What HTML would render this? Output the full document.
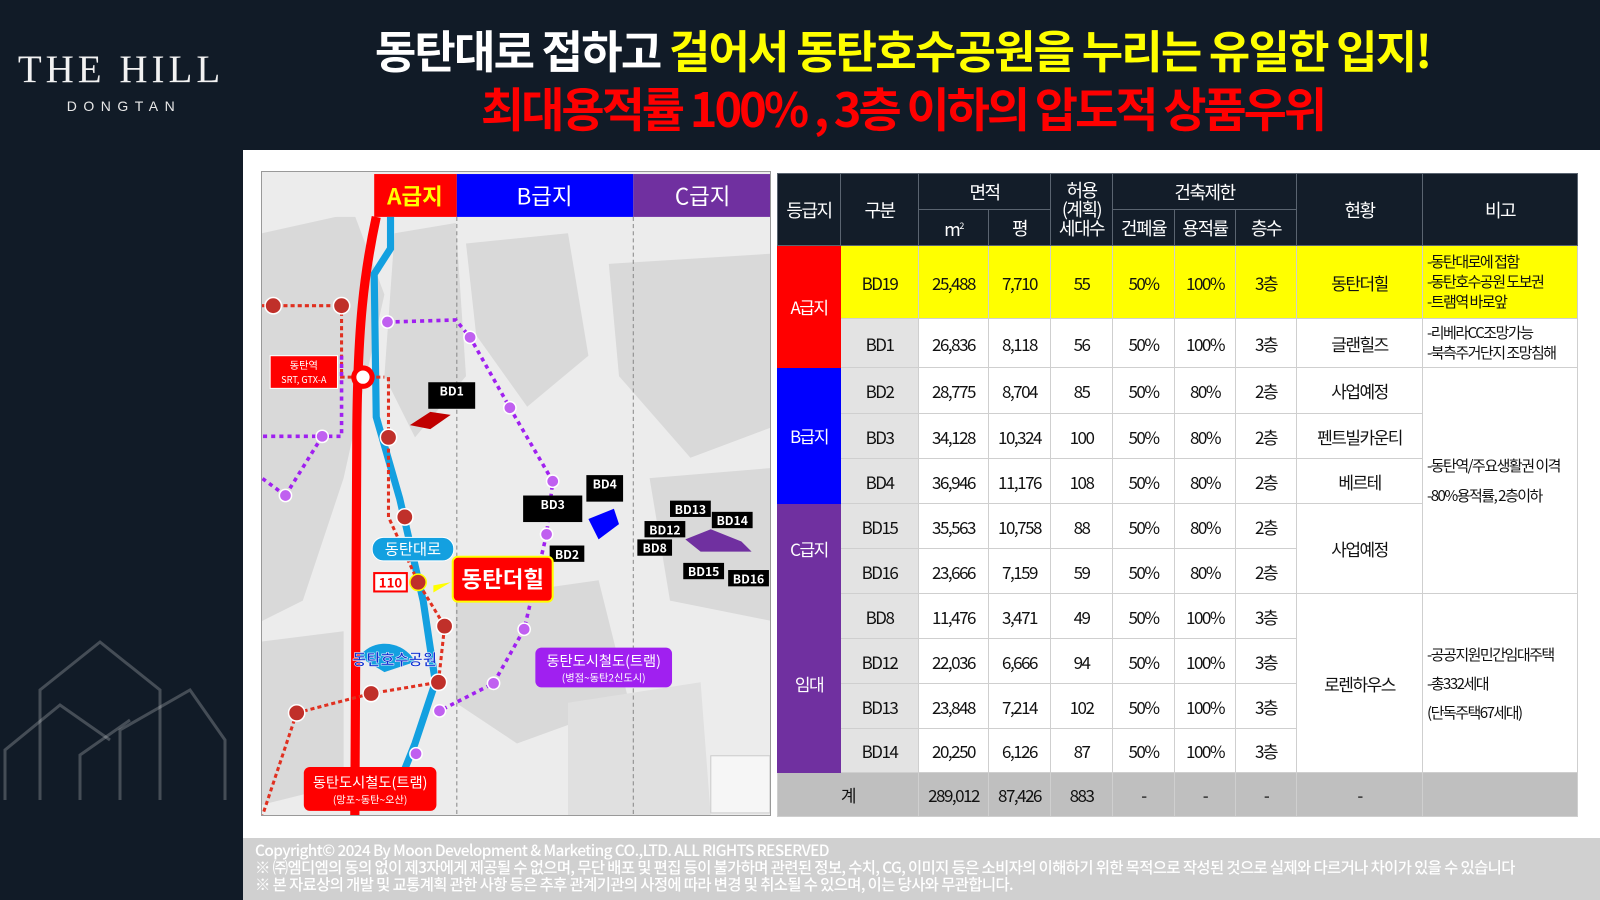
<!DOCTYPE html>
<html><head><meta charset="utf-8">
<style>
*{margin:0;padding:0;box-sizing:border-box}
body{width:1600px;height:900px;background:#111b27;position:relative;overflow:hidden;font-family:"Liberation Sans","Noto Sans CJK KR",sans-serif}
.abs{position:absolute}
#logo1{left:0;width:242px;top:47px;text-align:center;color:#f2f2f2;font-family:"Liberation Serif","Noto Serif CJK SC",serif;font-size:39px;letter-spacing:4px}
#logo2{left:0;width:242px;top:98px;text-align:center;color:#e8e8e8;font-size:14px;letter-spacing:6.5px;padding-left:6px}
.title{left:205px;width:1395px;text-align:center;font-family:"Noto Sans CJK KR",sans-serif;font-weight:700;white-space:nowrap}
#t1{top:16px;font-size:45px;letter-spacing:-1.8px;color:#fff}
#t1 span{color:#ffff00}
#t2{top:72px;font-size:47px;letter-spacing:-3px;color:#ff0000}
#panel{left:243px;top:150px;width:1357px;height:688px;background:#fff}
#footer{left:243px;top:838px;width:1357px;height:62px;background:#d0d0d0;color:#fff;font-family:"Noto Sans CJK KR",sans-serif;font-weight:500;font-size:15.4px;line-height:17px;padding:4px 0 0 12px;letter-spacing:-0.6px;white-space:nowrap;overflow:hidden}
#map{left:261px;top:171px;width:510px;height:645px;border:1px solid #999;background:#ececec;overflow:hidden}
table{position:absolute;left:777px;top:173px;width:800px;height:643px;border-collapse:collapse;table-layout:fixed;font-family:"Noto Sans CJK KR",sans-serif;font-size:17px;letter-spacing:-1.5px;color:#111}
td{border:1px solid #cfcfcf;text-align:center;vertical-align:middle;padding:0;overflow:hidden;white-space:nowrap}
th{background:#131d29;color:#fff;font-weight:400;border:1px solid #5a6470;font-size:18px;line-height:22px}
.y td{background:#ffff00}
.g{background:#e3e3e3}
.left{text-align:left;padding-left:4px;font-size:15px;line-height:20px}
.tot td{background:#bfbfbf}
</style></head><body>
<div class="abs" id="logo1">THE HILL</div>
<div class="abs" id="logo2">DONGTAN</div>
<svg class="abs" style="left:0;top:630px" width="240" height="180">
<g fill="none" stroke="rgba(255,255,255,0.22)" stroke-width="3">
<polyline points="40,170 40,60 100,12 160,60 160,170"/>
<polyline points="5,170 5,120 60,75 110,110"/>
<polyline points="120,170 120,100 190,60 225,110 225,170"/>
<polyline points="80,170 80,125 130,90"/>
</g></svg>
<div class="abs title" id="t1">동탄대로 접하고 <span>걸어서 동탄호수공원을 누리는 유일한 입지!</span></div>
<div class="abs title" id="t2">최대용적률 100% , 3층 이하의 압도적 상품우위</div>
<div class="abs" id="panel"></div>

<div class="abs" id="map">
<svg width="510" height="645" viewBox="0 0 500 632" preserveAspectRatio="none" font-family="Noto Sans CJK KR, sans-serif">
<g fill="#d9d9d9">
<path d="M0,60 L90,40 L120,120 L80,300 L40,420 L0,440Z"/>
<path d="M130,60 L190,50 L200,200 L150,260 L120,200Z"/>
<path d="M200,70 L300,60 L320,180 L260,230 L210,160Z"/>
<path d="M340,90 L500,80 L500,250 L420,280 L350,200Z"/>
<path d="M380,300 L500,290 L500,440 L400,420Z"/>
<path d="M190,420 L330,400 L360,520 L250,560 L190,520Z"/>
<path d="M0,460 L80,450 L80,600 L0,620Z"/>
<path d="M300,520 L430,500 L440,632 L300,632Z" fill="#e0e0e0"/>
</g>
<rect x="0" y="2" width="110" height="42" fill="#ececec"/>
<rect x="110" y="2" width="81" height="42" fill="#ff0000"/>
<rect x="191" y="2" width="173" height="42" fill="#0000ff"/>
<rect x="364" y="2" width="136" height="42" fill="#7030a0"/>
<text x="150" y="32" fill="#ffff00" font-size="22" text-anchor="middle" font-weight="700">A급지</text>
<text x="277" y="32" fill="#fff" font-size="22" text-anchor="middle">B급지</text>
<text x="432" y="32" fill="#fff" font-size="22" text-anchor="middle">C급지</text>
<line x1="191" y1="44" x2="191" y2="632" stroke="#888" stroke-dasharray="4,3"/>
<line x1="364" y1="44" x2="364" y2="632" stroke="#888" stroke-dasharray="4,3"/>
<rect x="440" y="572" width="58" height="56" fill="#f6f6f6" stroke="#ccc"/>
<path d="M112,44 C100,100 94,150 93,250 L91,632" stroke="#ff0000" stroke-width="9" fill="none"/>
<path d="M126,44 L126,75 L110,100 L112,240 L135,320 L158,420 L170,500 L150,560 L130,610" stroke="#13a0e0" stroke-width="7" fill="none"/>
<g stroke="#e03020" stroke-width="3" stroke-dasharray="4,3" fill="none">
<path d="M0,131 L78,131 L78,201 L120,201"/><path d="M124,201 L124,338 L153,402 L179,445 L173,500 L107,511"/>
<path d="M34,530 L107,511"/><path d="M34,530 L0,632"/></g>
<g stroke="#a020f0" stroke-width="3.5" stroke-dasharray="4,4" fill="none">
<path d="M123,147 L190,145 L204,162 L243,231 L285,303 L279,355 L257,448 L227,501 L174,528"/>
<path d="M78,180 L78,259 L59,259 L0,259 M23,317 L0,300 M59,259 L23,317"/></g>
<g fill="#c0302a" stroke="#fff" stroke-width="1.5">
<circle cx="11" cy="131" r="8"/><circle cx="78" cy="131" r="8"/><circle cx="124" cy="260" r="8"/><circle cx="140" cy="338" r="8"/><circle cx="153" cy="402" r="8" stroke="#ff0"/><circle cx="179" cy="445" r="8"/><circle cx="173" cy="500" r="8"/><circle cx="107" cy="511" r="8"/><circle cx="34" cy="530" r="8"/></g>
<circle cx="99" cy="201" r="9" fill="#fff" stroke="#ff0000" stroke-width="5"/>
<g fill="#c060f0" stroke="#fff" stroke-width="1.5">
<circle cx="123" cy="147" r="6"/><circle cx="204" cy="162" r="6"/><circle cx="243" cy="231" r="6"/><circle cx="285" cy="303" r="6"/><circle cx="279" cy="355" r="6"/><circle cx="257" cy="448" r="6"/><circle cx="227" cy="501" r="6"/><circle cx="174" cy="528" r="6"/><circle cx="151" cy="570" r="6"/><circle cx="59" cy="259" r="6"/><circle cx="23" cy="317" r="6"/></g>
<path d="M145,248 L165,235 L185,238 L165,252Z" fill="#c00000"/>
<path d="M320,340 L345,330 L350,345 L330,360Z" fill="#0000ff"/>
<path d="M415,360 L440,350 L470,362 L480,372 L430,372Z" fill="#7030a0"/>
<rect x="8" y="180" width="66" height="32" fill="#ff0000" stroke="#fff"/>
<text x="41" y="193" fill="#fff" font-size="10" text-anchor="middle">동탄역</text>
<text x="41" y="207" fill="#fff" font-size="9" text-anchor="middle">SRT, GTX-A</text>
<g font-weight="700" font-size="12" fill="#fff">
<rect x="163" y="206" width="46" height="26" fill="#000"/><text x="186" y="219" text-anchor="middle">BD1</text>
<rect x="256" y="317" width="58" height="26" fill="#000"/><text x="285" y="330" text-anchor="middle">BD3</text>
<rect x="318" y="297" width="36" height="26" fill="#000"/><text x="336" y="310" text-anchor="middle">BD4</text>
<rect x="282" y="366" width="34" height="16" fill="#000"/><text x="299" y="379" text-anchor="middle">BD2</text>
<rect x="400" y="322" width="40" height="16" fill="#000"/><text x="420" y="335" text-anchor="middle">BD13</text>
<rect x="441" y="333" width="40" height="16" fill="#000"/><text x="461" y="346" text-anchor="middle">BD14</text>
<rect x="375" y="342" width="40" height="16" fill="#000"/><text x="395" y="355" text-anchor="middle">BD12</text>
<rect x="368" y="360" width="34" height="16" fill="#000"/><text x="385" y="373" text-anchor="middle">BD8</text>
<rect x="413" y="383" width="40" height="16" fill="#000"/><text x="433" y="396" text-anchor="middle">BD15</text>
<rect x="457" y="390" width="40" height="16" fill="#000"/><text x="477" y="403" text-anchor="middle">BD16</text>
</g>
<rect x="108" y="358" width="80" height="23" rx="11" fill="#13a0e0" stroke="#fff"/>
<text x="148" y="375" fill="#fff" font-size="15" text-anchor="middle">동탄대로</text>
<rect x="110" y="393" width="32" height="18" fill="#fff" stroke="#ff0000" stroke-width="2"/>
<text x="126" y="407" fill="#ff0000" font-size="13" font-weight="700" text-anchor="middle">110</text>
<rect x="187" y="377" width="98" height="44" rx="5" fill="#ff0000" stroke="#ffff00" stroke-width="2"/>
<text x="236" y="407" fill="#fff" font-size="22" font-weight="700" text-anchor="middle">동탄더힐</text>
<path d="M168,405 L185,402 L168,412Z" fill="#ff0"/>
<path d="M95,475 C110,455 140,460 150,480 L120,490Z" fill="#13a0e0"/>
<text x="130" y="483" fill="#1030d0" font-size="15" font-weight="700" text-anchor="middle" stroke="#fff" stroke-width="0.5">동탄호수공원</text>
<rect x="268" y="466" width="134" height="39" rx="6" fill="#a020f0"/>
<text x="335" y="484" fill="#fff" font-size="14" text-anchor="middle">동탄도시철도(트램)</text>
<text x="335" y="499" fill="#fff" font-size="10" text-anchor="middle">(병점~동탄2신도시)</text>
<rect x="41" y="583" width="130" height="43" rx="6" fill="#ff0000"/>
<text x="106" y="603" fill="#fff" font-size="14" text-anchor="middle">동탄도시철도(트램)</text>
<text x="106" y="619" fill="#fff" font-size="10" text-anchor="middle">(망포~동탄~오산)</text>
</svg></div>

<table>
<colgroup><col style="width:63px"><col style="width:78px"><col style="width:70px"><col style="width:62px"><col style="width:62px"><col style="width:62px"><col style="width:61px"><col style="width:61px"><col style="width:126px"><col style="width:155px"></colgroup>
<tr style="height:36px"><th rowspan="2">등급지</th><th rowspan="2">구분</th><th colspan="2">면적</th><th rowspan="2" style="line-height:19px">허용<br>(계획)<br>세대수</th><th colspan="3">건축제한</th><th rowspan="2">현황</th><th rowspan="2">비고</th></tr>
<tr style="height:36px"><th>m<sup style="font-size:9px">2</sup></th><th>평</th><th>건폐율</th><th>용적률</th><th>층수</th></tr>
<tr class="y" style="height:73px"><td rowspan="2" style="background:#ff0000;color:#fff;border-color:#ff0000">A급지</td><td>BD19</td><td>25,488</td><td>7,710</td><td>55</td><td>50%</td><td>100%</td><td>3층</td><td>동탄더힐</td><td class="left">-동탄대로에 접함<br>-동탄호수공원 도보권<br>-트램역 바로앞</td></tr>
<tr style="height:49px"><td class="g">BD1</td><td>26,836</td><td>8,118</td><td>56</td><td>50%</td><td>100%</td><td>3층</td><td>글랜힐즈</td><td class="left">-리베라CC조망가능<br>-북측주거단지 조망침해</td></tr>
<tr style="height:46px"><td rowspan="3" style="background:#0000ff;color:#fff;border-color:#0000ff">B급지</td><td class="g">BD2</td><td>28,775</td><td>8,704</td><td>85</td><td>50%</td><td>80%</td><td>2층</td><td>사업예정</td><td rowspan="5" class="left" style="line-height:30px">-동탄역/주요생활권 이격<br>-80%용적률, 2층이하</td></tr>
<tr style="height:45px"><td class="g">BD3</td><td>34,128</td><td>10,324</td><td>100</td><td>50%</td><td>80%</td><td>2층</td><td>펜트빌카운티</td></tr>
<tr style="height:45px"><td class="g">BD4</td><td>36,946</td><td>11,176</td><td>108</td><td>50%</td><td>80%</td><td>2층</td><td>베르테</td></tr>
<tr style="height:45px"><td rowspan="2" style="background:#7030a0;color:#fff;border-color:#7030a0">C급지</td><td class="g">BD15</td><td>35,563</td><td>10,758</td><td>88</td><td>50%</td><td>80%</td><td>2층</td><td rowspan="2">사업예정</td></tr>
<tr style="height:45px"><td class="g">BD16</td><td>23,666</td><td>7,159</td><td>59</td><td>50%</td><td>80%</td><td>2층</td></tr>
<tr style="height:45px"><td rowspan="4" style="background:#7030a0;color:#fff;border-color:#7030a0">임대</td><td class="g">BD8</td><td>11,476</td><td>3,471</td><td>49</td><td>50%</td><td>100%</td><td>3층</td><td rowspan="4">로렌하우스</td><td rowspan="4" class="left" style="line-height:29px">-공공지원민간임대주택<br>-총332세대<br>(단독주택67세대)</td></tr>
<tr style="height:45px"><td class="g">BD12</td><td>22,036</td><td>6,666</td><td>94</td><td>50%</td><td>100%</td><td>3층</td></tr>
<tr style="height:45px"><td class="g">BD13</td><td>23,848</td><td>7,214</td><td>102</td><td>50%</td><td>100%</td><td>3층</td></tr>
<tr style="height:44px"><td class="g">BD14</td><td>20,250</td><td>6,126</td><td>87</td><td>50%</td><td>100%</td><td>3층</td></tr>
<tr class="tot" style="height:44px"><td colspan="2">계</td><td>289,012</td><td>87,426</td><td>883</td><td>-</td><td>-</td><td>-</td><td>-</td><td></td></tr>
</table>

<div class="abs" id="footer">Copyright© 2024 By Moon Development &amp; Marketing CO.,LTD. ALL RIGHTS RESERVED<br>※ ㈜엠디엠의 동의 없이 제3자에게 제공될 수 없으며, 무단 배포 및 편집 등이 불가하며 관련된 정보, 수치, CG, 이미지 등은 소비자의 이해하기 위한 목적으로 작성된 것으로 실제와 다르거나 차이가 있을 수 있습니다<br>※ 본 자료상의 개발 및 교통계획 관한 사항 등은 추후 관계기관의 사정에 따라 변경 및 취소될 수 있으며, 이는 당사와 무관합니다.</div>
</body></html>
